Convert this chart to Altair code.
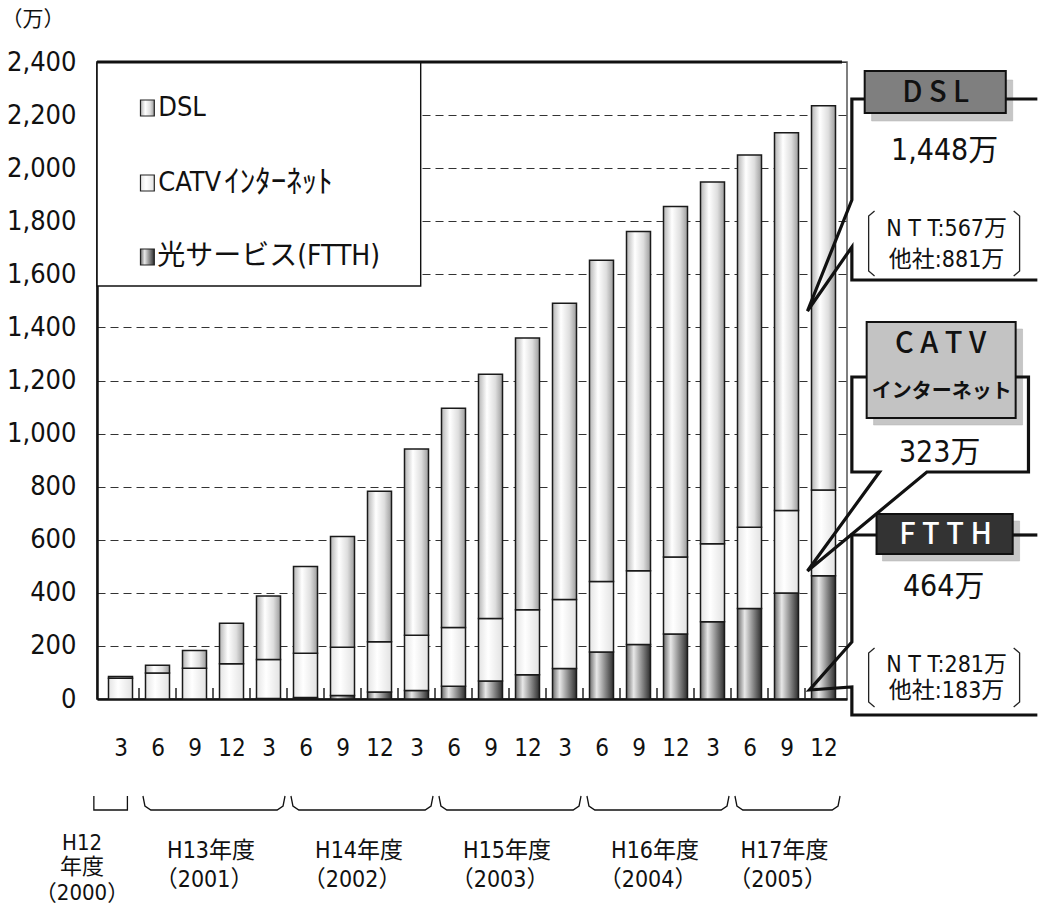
import altair as alt
import pandas as pd

# ------------------------------------------------------------------ data
months = ["3", "6", "9", "12", "3", "6", "9", "12", "3", "6", "9", "12",
          "3", "6", "9", "12", "3", "6", "9", "12"]
ftth = [0, 0, 0, 0, 2, 6, 13, 26, 32, 48, 68, 91, 115, 177, 205, 245, 291, 341, 399, 464]
catv = [78, 98, 116, 133, 147, 166, 182, 190, 208, 221, 235, 245, 260, 266, 278, 290, 294, 306, 311, 323]
dsl = [7, 29, 67, 152, 239, 327, 417, 567, 702, 826, 921, 1024, 1116, 1210, 1278, 1321, 1363, 1403, 1423, 1448]

fy_names = ["H12年度", "H13年度", "H14年度", "H15年度", "H16年度", "H17年度"]
fy_years = ["（2000）", "（2001）", "（2002）", "（2003）", "（2004）", "（2005）"]
fy_first = [0, 1, 5, 9, 13, 17]
fy_last = [0, 4, 8, 12, 16, 19]

legend_latin = ["DSL", "CATV", "光サービス(FTTH)"]
legend_kana = ["", "ｲﾝﾀｰﾈｯﾄ", ""]
y_ticks = list(range(0, 2401, 200))
unit_label = "（万）"

dsl_title, dsl_total, dsl_ntt, dsl_other = "D S L", "1,448万", "N T T:567万", "他社:881万"
catv_title1, catv_title2, catv_total = "C A T V", "インターネット", "323万"
ftth_title, ftth_total, ftth_ntt, ftth_other = "F T T H", "464万", "N T T:281万", "他社:183万"

# ------------------------------------------------------------------ layout
W, H = 750, 637
LEFT, TOP = 97, 62
YMAX = 2400
N = len(months)
SLOT = W / N

def X(px):
    return (px - LEFT) / SLOT - 0.5

def Y(py):
    return (TOP + H - py) / H * YMAX

FONT = "DejaVu Sans Condensed, Liberation Sans Narrow, Noto Sans CJK JP, sans-serif"
JFONT = "Noto Sans CJK JP, sans-serif"

xscale = alt.Scale(domain=[-0.5, N - 0.5], nice=False, zero=False)
yscale = alt.Scale(domain=[0, YMAX], nice=False)

month_js = "[" + ",".join(f"'{m}'" for m in months) + "][datum.value]"
xaxis = alt.Axis(values=list(range(N)), labelExpr=month_js, ticks=False, grid=False,
                 domain=True, domainColor="#111", domainWidth=2.5,
                 labelFont=FONT, labelFontSize=24, labelColor="#111", labelPadding=37,
                 title=None)
yaxis = alt.Axis(values=y_ticks, labelExpr="format(datum.value, ',')", ticks=False, grid=True,
                 gridDash=[8, 5], gridColor="#333", gridWidth=1.2,
                 domain=True, domainColor="#111", domainWidth=2.5,
                 labelFont=FONT, labelFontSize=27, labelColor="#111", labelPadding=21,
                 title=None)

def xq(f):
    return alt.X(f"{f}:Q", scale=xscale, axis=xaxis, title=None)

def yq(f):
    return alt.Y(f"{f}:Q", scale=yscale, axis=yaxis, title=None)

def grad(stops):
    return alt.Gradient(gradient="linear", x1=0, x2=1, y1=0, y2=0,
                        stops=[alt.GradientStop(offset=o, color=c) for o, c in stops])

G_DSL = grad([(0, "#b4b4b4"), (0.35, "#ffffff"), (0.7, "#dedede"), (1, "#9c9c9c")])
G_CATV = grad([(0, "#e4e4e4"), (0.4, "#ffffff"), (1, "#e2e2e2")])
G_FTTH = grad([(0, "#6c6c6c"), (0.3, "#e8e8e8"), (0.65, "#8a8a8a"), (1, "#2e2e2e")])

# ------------------------------------------------------------------ bars
df = pd.DataFrame({"slot": list(range(N)), "month": months,
                   "ftth": ftth, "catv": catv, "dsl": dsl})
base = alt.Chart(df).transform_calculate(
    c0="0",
    c1="datum.ftth",
    c2="datum.ftth + datum.catv",
    c3="datum.ftth + datum.catv + datum.dsl",
)
bar_kw = dict(size=24, stroke="#1a1a1a", strokeWidth=1.5)
bar_ftth = base.mark_bar(fill=G_FTTH, **bar_kw).encode(x=xq("slot"), y=yq("c0"), y2=alt.Y2("c1"))
bar_catv = base.mark_bar(fill=G_CATV, **bar_kw).encode(x=xq("slot"), y=yq("c1"), y2=alt.Y2("c2"))
bar_dsl = base.mark_bar(fill=G_DSL, **bar_kw).encode(x=xq("slot"), y=yq("c2"), y2=alt.Y2("c3"))

ticks = base.transform_filter(f"datum.slot < {N - 1}").transform_calculate(
    b="datum.slot + 0.5", t1=str(11 / H * YMAX)
).mark_rule(color="#222", strokeWidth=1.5).encode(x=xq("b"), y=yq("c0"), y2=alt.Y2("t1"))

# ------------------------------------------------------------------ helpers for annotations
def pts(rows):
    d = pd.DataFrame(rows)
    d["x"] = d["px"].map(X)
    d["y"] = d["py"].map(Y)
    return d

def text_layer(rows, **kw):
    d = pts([{"px": a, "py": b, "text": t} for a, b, t in rows])
    kw.setdefault("baseline", "middle")
    return alt.Chart(d).mark_text(**kw).encode(x=xq("x"), y=yq("y"), text="text:N")

def rect_layer(boxes, **kw):
    rows = []
    for x0, y0, x1, y1 in boxes:
        rows.append({"x": X(x0), "x2": X(x1), "y": Y(y0), "y2": Y(y1)})
    d = pd.DataFrame(rows)
    return alt.Chart(d).mark_rect(**kw).encode(x=xq("x"), x2=alt.X2("x2"), y=yq("y"), y2=alt.Y2("y2"))

def line_layer(paths, **kw):
    rows = []
    for k, p in enumerate(paths):
        for i, (a, b) in enumerate(p):
            rows.append({"path": k, "i": i, "px": a, "py": b})
    d = pts(rows)
    return alt.Chart(d).mark_line(**kw).encode(x=xq("x"), y=yq("y"), detail="path:N", order="i:Q")

# ------------------------------------------------------------------ legend box
legend_box = rect_layer([(92, 62, 420, 286)], fill="white", stroke="#111", strokeWidth=1.4)
top_border = line_layer([[(92, 62), (847, 62)]], color="#111", strokeWidth=3)
sw_y = [108, 183, 257]
swatches = [rect_layer([(136, y - 8, 150, y + 8)], fill=g, stroke="#222", strokeWidth=1.2)
            for y, g in zip(sw_y, [G_DSL, G_CATV, G_FTTH])]
legend_text = text_layer([(154, y, t) for y, t in zip(sw_y[:2], legend_latin[:2])],
                         align="left", font=FONT, fontSize=27, color="#111")
legend_text_ftth = text_layer([(153, sw_y[2], legend_latin[2])],
                              align="left", font=FONT, fontSize=28, color="#111")
legend_kana_text = text_layer([(221, sw_y[1], legend_kana[1])],
                              align="left", font=JFONT, fontSize=31, color="#111")

unit_text = text_layer([(27, 20, unit_label)], align="center", font=JFONT, fontSize=21, color="#111")

# ------------------------------------------------------------------ fiscal-year brackets & labels
BR_TOP, BR_BOT = 796, 810
br_paths = []
fy_rows_main, fy_rows_year, fy_rows_single = [], [], []
for name, yr, a, b in zip(fy_names, fy_years, fy_first, fy_last):
    if a == b:
        x0 = LEFT + (a + 0.5) * SLOT - 27
        x1 = LEFT + (a + 0.5) * SLOT + 7
        br_paths.append([(x0, BR_TOP), (x0, BR_BOT), (x1, BR_BOT), (x1, BR_TOP)])
        cx = x0 - 12
        fy_rows_single += [(cx, 843, name[:3]), (cx, 867, name[3:]), (cx, 893, yr)]
    else:
        x0 = LEFT + a * SLOT + 4
        x1 = LEFT + (b + 1) * SLOT - 2
        br_paths.append([(x0, BR_TOP), (x0 + 2, BR_BOT - 4), (x0 + 8, BR_BOT), (x1 - 8, BR_BOT),
                         (x1 - 2, BR_BOT - 4), (x1, BR_TOP)])
        cx = (x0 + x1) / 2
        fy_rows_main.append((cx - 3, 851, name))
        fy_rows_year.append((cx - 10, 880, yr))
brackets = line_layer(br_paths, color="#111", strokeWidth=1.3)
fy_text = text_layer(fy_rows_main + fy_rows_year, align="center",
                     font=FONT, fontSize=23, color="#111")
fy_text_single = text_layer(fy_rows_single, align="center", font=FONT, fontSize=22, color="#111")

# ------------------------------------------------------------------ callouts
outlines = line_layer([
    [(870, 99), (857, 99), (857, 200), (812, 311), (857, 247), (857, 280), (1045, 280)],
    [(1013, 99), (1045, 99)],
    [(872, 377), (857, 377), (857, 472), (885, 472), (812, 571), (933, 472), (1036, 472),
     (1036, 377), (1023, 377)],
    [(882, 535), (857, 535), (857, 642), (814, 690), (857, 687), (857, 715), (1045, 715)],
    [(1020, 535), (1045, 535)],
], color="#111", strokeWidth=3.2, strokeJoin="miter")

shadows = rect_layer([(877, 80, 1020, 121), (879, 329, 1030, 425), (888, 521, 1027, 561)],
                     fill="#c6c6c6", stroke="#b0b0b0", strokeWidth=0.5)
box_dsl = rect_layer([(870, 71, 1013, 113)], fill="#7f7f7f", stroke="#111", strokeWidth=2)
box_catv = rect_layer([(872, 322, 1023, 418)], fill="#c3c3c3", stroke="#111", strokeWidth=2)
box_ftth = rect_layer([(882, 514, 1020, 554)], fill="#333333", stroke="#111", strokeWidth=2)

box_text_dark = text_layer([(942, 93, dsl_title), (947, 344, catv_title1)],
                           align="center", font=JFONT, fontSize=29, fontWeight=500, color="#111")
box_text_catv = text_layer([(948, 392, catv_title2)], align="center", font=JFONT,
                           fontSize=20, fontWeight="bold", color="#111")
box_text_light = text_layer([(952, 535, ftth_title)], align="center", font=JFONT,
                            fontSize=29, fontWeight=500, color="white")
totals = text_layer([(951, 151, dsl_total), (946, 453, catv_total), (950, 587, ftth_total)],
                    align="center", font=FONT, fontSize=30, color="#111")
ntt_text = text_layer([(953, 229, dsl_ntt), (953, 260, dsl_other),
                       (953, 665, ftth_ntt), (953, 691, ftth_other)],
                      align="center", font=FONT, fontSize=23, color="#111")
paren = line_layer([
    [(880, 211), (874, 216), (874, 271), (880, 276)],
    [(1021, 211), (1027, 216), (1027, 271), (1021, 276)],
    [(880, 648), (874, 653), (874, 702), (880, 707)],
    [(1021, 648), (1027, 653), (1027, 702), (1021, 707)],
], color="#222", strokeWidth=1.3)

chart = alt.layer(
    legend_box, bar_ftth, bar_catv, bar_dsl, ticks, top_border, *swatches, legend_text,
    legend_text_ftth, legend_kana_text, unit_text, brackets, fy_text, fy_text_single,
    shadows, box_dsl, box_catv, box_ftth, outlines,
    box_text_dark, box_text_catv, box_text_light, totals, ntt_text, paren,
).properties(
    width=W, height=H,
    autosize=alt.AutoSizeParams(type="none"),
    padding={"left": LEFT, "top": TOP, "right": 1045 - LEFT - W, "bottom": 909 - TOP - H},
    background="white",
).configure_view(stroke="#555", strokeWidth=1.5)

chart.save("out.html", embed_options={"renderer": "svg", "actions": False})
